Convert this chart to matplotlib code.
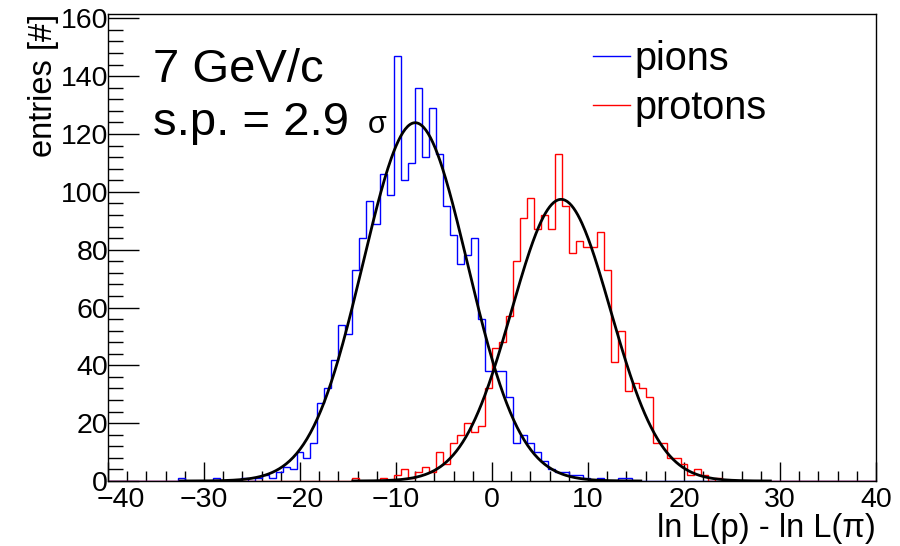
import numpy as np
import matplotlib
matplotlib.use("Agg")
import matplotlib.pyplot as plt
from matplotlib.ticker import MultipleLocator
from matplotlib.transforms import ScaledTranslation

plt.rcParams["font.family"] = ["Liberation Sans", "DejaVu Sans"]

# Histogram: 110 bins over [-40, 40]
x_min, x_max, n_bins = -40, 40, 110

pions = [
    0, 0, 0, 0, 0, 0, 0, 0, 0, 0,
    1, 0, 0, 0, 0, 1, 0, 0, 0, 1,
    0, 1, 2, 1, 3, 5, 4, 10, 8, 13,
    27, 32, 42, 54, 51, 73, 84, 97, 89, 106,
    99, 147, 104, 110, 136, 112, 129, 113, 95, 85,
    75, 78, 84, 56, 38, 38, 38, 29, 13, 16,
    13, 10, 7, 4, 3, 3, 2, 2, 1, 0,
    1, 0, 0, 1, 1, 0, 0, 0, 0, 0,
    0, 0, 0, 0, 0, 0, 0, 0, 0, 0,
    0, 0, 0, 0, 0, 0, 0, 0, 0, 0,
    0, 0, 0, 0, 0, 0, 0, 0, 0, 0,
]

protons = [
    0, 0, 0, 0, 0, 0, 0, 0, 0, 0,
    0, 0, 0, 0, 0, 0, 0, 0, 0, 0,
    0, 0, 0, 0, 0, 0, 0, 0, 0, 0,
    0, 0, 0, 0, 0, 1, 0, 0, 0, 1,
    0, 2, 4, 1, 3, 5, 3, 10, 6, 13,
    16, 20, 17, 19, 32, 46, 48, 57, 76, 91,
    98, 87, 92, 87, 113, 95, 79, 83, 81, 81,
    86, 73, 41, 52, 31, 34, 32, 29, 13, 13,
    8, 8, 6, 2, 4, 2, 0, 1, 0, 0,
    0, 0, 0, 0, 0, 0, 0, 0, 0, 0,
    0, 0, 0, 0, 0, 0, 0, 0, 0, 0,
]

# Gaussian fit parameters (constant, mean, sigma) and fit ranges
pion_fit = (123.9, -8.0, 5.45)
pion_range = (-32.5, 15.5)
proton_fit = (97.4, 7.2, 5.15)
proton_range = (-14.5, 29.0)


def gauss(x, const, mean, sigma):
    return const * np.exp(-0.5 * ((x - mean) / sigma) ** 2)


def main() -> None:
    edges = np.linspace(x_min, x_max, n_bins + 1)

    fig = plt.figure(figsize=(9, 5.46), dpi=100)
    ax = fig.add_axes([108 / 900, 1 - 481 / 546, 768 / 900, 467 / 546])

    ax.stairs(pions, edges, color="#0000ff", lw=1.0, label="pions", zorder=2)
    ax.stairs(protons, edges, color="#ff0000", lw=1.0, label="protons", zorder=2)

    # Fit curves
    for (c, m, s), (lo, hi) in ((pion_fit, pion_range), (proton_fit, proton_range)):
        xs = np.linspace(lo, hi, 400)
        ax.plot(xs, gauss(xs, c, m, s), color="black", lw=2.0, zorder=3)

    ax.set_xlim(x_min, x_max)
    ax.set_ylim(0, 161.5)

    ax.xaxis.set_major_locator(MultipleLocator(10))
    ax.xaxis.set_minor_locator(MultipleLocator(2))
    ax.yaxis.set_major_locator(MultipleLocator(20))
    ax.yaxis.set_minor_locator(MultipleLocator(4))
    ax.tick_params(axis="x", which="major", direction="in", length=14, width=1,
                   labelsize=20.5, pad=4)
    ax.tick_params(axis="x", which="minor", direction="in", length=7, width=1)
    ax.tick_params(axis="y", which="major", direction="in", length=22, width=1,
                   labelsize=20.5, pad=0)
    ax.tick_params(axis="y", which="minor", direction="in", length=11, width=1)
    for sp in ax.spines.values():
        sp.set_linewidth(1.0)

    # ROOT pushes the first x label off the corner
    locs = list(ax.xaxis.get_majorticklocs())
    ticks = ax.xaxis.get_major_ticks(len(locs))
    first = ticks[locs.index(x_min)].label1
    first.set_transform(first.get_transform()
                        + ScaledTranslation(9 / 72, 0, fig.dpi_scale_trans))

    ax.set_ylabel("entries [#]", fontsize=23.5, loc="top", labelpad=1)
    ax.set_xlabel("ln L(p) - ln L(\u03c0)", fontsize=23.5, loc="right", labelpad=0)

    # Annotations
    ax.text(0.058, 0.854, "7 GeV/c", transform=ax.transAxes, fontsize=34,
            va="baseline", ha="left")
    ax.text(0.058, 0.741, "s.p. = 2.9", transform=ax.transAxes, fontsize=34,
            va="baseline", ha="left")
    ax.text(0.338, 0.745, "\u03c3", transform=ax.transAxes, fontsize=22,
            va="baseline", ha="left")

    leg = ax.legend(loc="upper left", bbox_to_anchor=(0.631, 0.944), frameon=False,
                    fontsize=28.5, handlelength=0.95, handletextpad=0.12,
                    labelspacing=0.27, borderpad=0.0, borderaxespad=0.0)
    for line in leg.get_lines():
        line.set_linewidth(1.0)

    fig.savefig("out.png", dpi=100)


if __name__ == "__main__":
    main()
